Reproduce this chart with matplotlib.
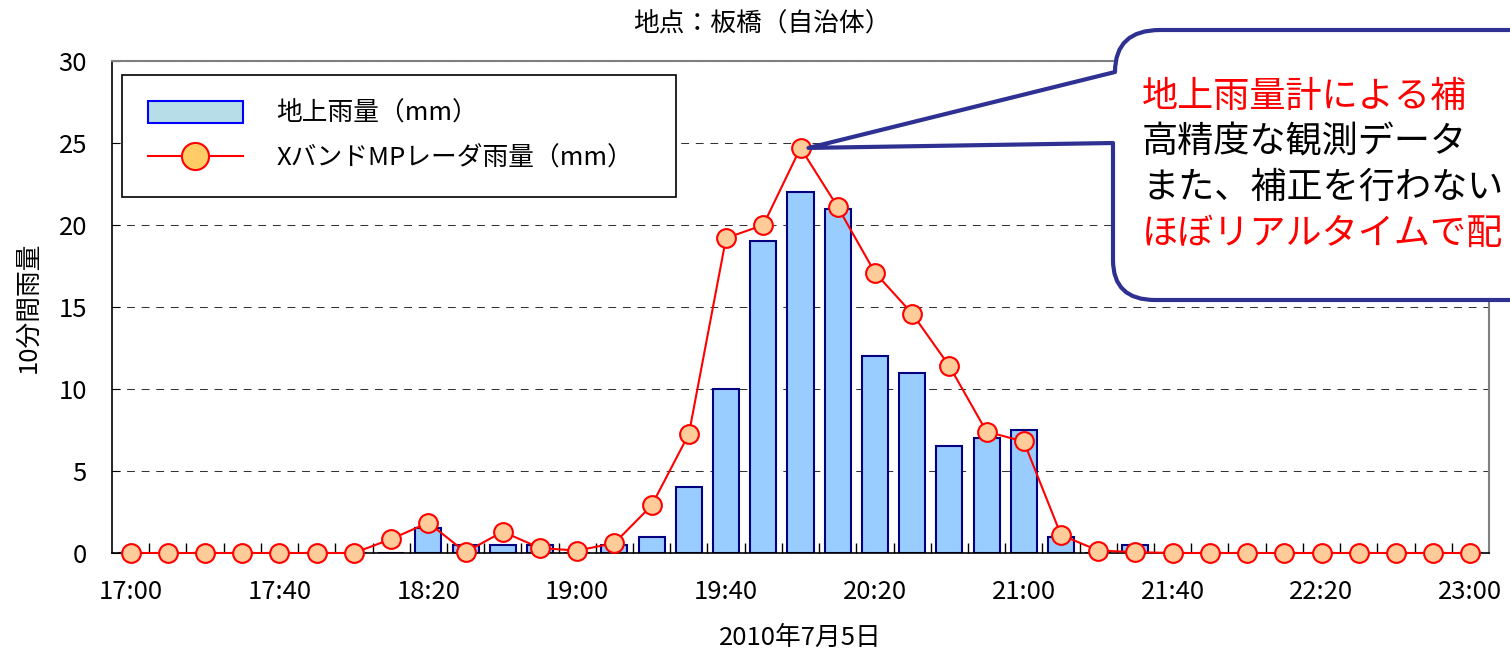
import matplotlib
matplotlib.use("Agg")
import matplotlib.pyplot as plt
import numpy as np
from matplotlib.patches import Patch, PathPatch
from matplotlib.lines import Line2D
from matplotlib.path import Path

plt.rcParams["font.family"] = ["Noto Sans CJK JP", "DejaVu Sans"]

# 10-minute slots from 17:00 to 23:00
times = [f"{h}:{m:02d}" for h in range(17, 23) for m in range(0, 60, 10)] + ["23:00"]
tick_labels = ["17:00", "17:40", "18:20", "19:00", "19:40", "20:20", "21:00", "21:40", "22:20", "23:00"]

gauge_mm = [0, 0, 0, 0, 0, 0, 0, 0, 1.5, 0.5, 0.5, 0.5, 0, 0.5, 1.0, 4.0, 10.0, 19.0, 22.0,
            21.0, 12.0, 11.0, 6.5, 7.0, 7.5, 1.0, 0, 0.5, 0, 0, 0, 0, 0, 0, 0, 0, 0]
radar_mm = [0, 0, 0, 0, 0, 0, 0, 0.85, 1.85, 0.05, 1.3, 0.3, 0.15, 0.6, 2.9, 7.25, 19.2, 20.0,
            24.7, 21.1, 17.1, 14.6, 11.4, 7.4, 6.8, 1.1, 0.15, 0.05, 0, 0, 0, 0, 0, 0, 0, 0, 0]

callout_lines = [("地上雨量計による補", "#FF0000"),
                 ("高精度な観測データ", "black"),
                 ("また、補正を行わない", "black"),
                 ("ほぼリアルタイムで配", "#FF0000")]

W, H = 1510, 654
fig = plt.figure(figsize=(W / 100, H / 100), dpi=100)
ax = fig.add_axes([112 / W, 1 - 553 / H, (1489 - 112) / W, (553 - 61) / H])

x = np.arange(len(times))
ax.bar(x, gauge_mm, width=0.7, color="#99CCFF", edgecolor="#000080", linewidth=1.5, zorder=2)
ax.plot(x, radar_mm, color="#FF0000", linewidth=1.5, marker="o", markersize=13.5,
        markerfacecolor="#FFCC99", markeredgecolor="#FF0000", markeredgewidth=1.5,
        zorder=3, clip_on=False)

ax.set_xlim(-0.5, len(times) - 0.5)
ax.set_ylim(0, 30)
ax.set_yticks([0, 5, 10, 15, 20, 25, 30])
ax.set_xticks([times.index(t) for t in tick_labels])
ax.set_xticklabels(tick_labels)
ax.set_xticks(np.arange(0.5, len(times) - 1, 1), minor=True)
ax.tick_params(axis="x", which="major", length=0, pad=19, labelsize=18.5)
ax.tick_params(axis="x", which="minor", direction="in", length=7, width=1)
ax.tick_params(axis="y", direction="in", length=6, labelsize=18.5, pad=18)
ax.yaxis.grid(True, color="#333333", linestyle=(0, (7.5, 6.5)), linewidth=0.75, zorder=0)
ax.set_axisbelow(True)

for side in ("left", "bottom"):
    ax.spines[side].set_color("black")
    ax.spines[side].set_linewidth(1.2)
for side in ("top", "right"):
    ax.spines[side].set_color("#808080")
    ax.spines[side].set_linewidth(1.5)

ax.set_ylabel("10分間雨量", fontsize=18.5, labelpad=12)
fig.text(800 / W, 1 - 638 / H, "2010年7月5日", ha="center", va="center", fontsize=18.5)
fig.text(762 / W, 1 - 25 / H, "地点：板橋（自治体）", ha="center", va="center", fontsize=18.5)

handles = [Patch(facecolor="#B7DEE8", edgecolor="#0000FF", linewidth=1.5),
           Line2D([0], [0], color="#FF0000", linewidth=1.5, marker="o", markersize=19.5,
                  markerfacecolor="#FFCC66", markeredgecolor="#FF0000", markeredgewidth=1.5)]
leg = ax.legend(handles, ["地上雨量（mm）", "XバンドMPレーダ雨量（mm）"],
                loc="upper left", bbox_to_anchor=(10 / 1377, 473 / 492, 554 / 1377, 0.01),
                mode="expand", borderaxespad=0, fontsize=18.5, fancybox=False,
                edgecolor="black", framealpha=1, handlelength=3.7, handleheight=0.9,
                handletextpad=1.3, labelspacing=0.72, borderpad=1.0)
leg.get_frame().set_linewidth(1.2)

# callout balloon (pixel coordinates -> figure fraction)
tip = ax.transData.transform((18, radar_mm[18]))
tip_px = (tip[0] + 8, H - tip[1])
pts = [tip_px, (1113, 143), (1113, 260), (1113, 300), (1155, 300), (1600, 300),
       (1600, 30), (1160, 30), (1115, 30), (1115, 72), tip_px]
codes = [Path.MOVETO, Path.LINETO, Path.LINETO, Path.CURVE3, Path.CURVE3, Path.LINETO,
         Path.LINETO, Path.LINETO, Path.CURVE3, Path.CURVE3, Path.CLOSEPOLY]
verts = [(px / W, 1 - py / H) for px, py in pts]
balloon = PathPatch(Path(verts, codes), transform=fig.transFigure, facecolor="white",
                    edgecolor="#2E3192", linewidth=3, joinstyle="round", zorder=5)
fig.add_artist(balloon)

for i, (line, col) in enumerate(callout_lines):
    fig.text(1142 / W, 1 - (97 + 45.5 * i) / H, line, color=col, fontsize=26,
             ha="left", va="center", zorder=6)

fig.savefig("out.png", dpi=100)
